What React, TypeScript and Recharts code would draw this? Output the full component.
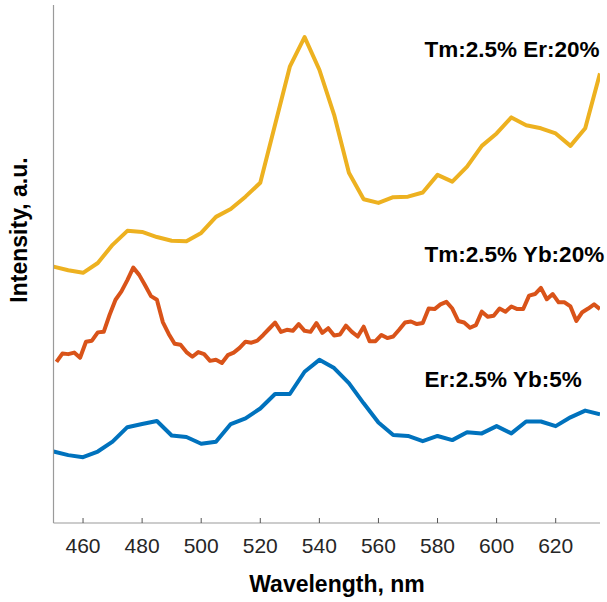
import React from 'react';
import { LineChart, Line, XAxis, YAxis } from 'recharts';

// Wavelength grid (nm) for the two smoother spectra
const coarseWavelengths = [
  450, 455, 460, 465, 470, 475, 480, 485, 490, 495, 500, 505, 510, 515, 520, 525, 530, 535, 540,
  545, 550, 555, 560, 565, 570, 575, 580, 585, 590, 595, 600, 605, 610, 615, 620, 625, 630, 635,
];

// Tm:2.5% Er:20% (offset spectrum, a.u.)
const tmErIntensity = [
  49.5, 48.8, 48.3, 50.2, 53.7, 56.4, 56.2, 55.2, 54.5, 54.4, 56.0, 59.1, 60.6, 63.0, 65.7, 76.9,
  88.1, 93.8, 87.5, 78.8, 67.6, 62.5, 61.8, 62.9, 63.0, 63.8, 67.2, 65.9, 68.8, 72.8, 75.2, 78.3,
  76.8, 76.2, 75.2, 72.8, 76.2, 86.8,
];

// Er:2.5% Yb:5%
const erYbIntensity = [
  13.8, 13.1, 12.7, 13.8, 15.7, 18.5, 19.1, 19.7, 16.9, 16.6, 15.3, 15.7, 19.1, 20.2, 22.1, 24.9,
  24.9, 29.2, 31.5, 29.9, 27.0, 23.1, 19.4, 17.0, 16.8, 15.8, 16.8, 16.0, 17.5, 17.3, 18.7, 17.3,
  19.6, 19.6, 18.7, 20.4, 21.7, 21.0,
];

// Finer wavelength grid (nm) for the noisy Tm/Yb spectrum
const fineWavelengths = [
  451, 453, 455, 457, 459, 461, 463, 465, 467, 469, 471, 473, 475, 477, 479, 481, 483, 485, 487,
  489, 491, 493, 495, 497, 499, 501, 503, 505, 507, 509, 511, 513, 515, 517, 519, 521, 523, 525,
  527, 529, 531, 533, 535, 537, 539, 541, 543, 545, 547, 549, 551, 553, 555, 557, 559, 561, 563,
  565, 567, 569, 571, 573, 575, 577, 579, 581, 583, 585, 587, 589, 591, 593, 595, 597, 599, 601,
  603, 605, 607, 609, 611, 613, 615, 617, 619, 621, 623, 625, 627, 629, 631, 633, 635,
];

// Tm:2.5% Yb:20%
const tmYbIntensity = [
  31.1, 32.7, 32.6, 32.9, 31.9, 35.0, 35.2, 36.8, 36.9, 40.2, 43.1, 44.7, 46.9, 49.3, 47.9, 45.9,
  43.8, 43.1, 38.8, 36.5, 34.6, 34.4, 33.0, 32.1, 33.0, 32.6, 31.3, 31.5, 30.9, 32.4, 32.9, 33.8,
  35.0, 34.8, 35.2, 36.3, 37.5, 38.7, 36.9, 37.3, 37.1, 38.4, 37.1, 36.9, 38.6, 36.7, 37.6, 36.2,
  36.4, 38.1, 36.9, 36.0, 37.9, 35.1, 35.1, 36.3, 35.7, 36.0, 37.3, 38.7, 38.9, 38.4, 38.6, 41.4,
  41.3, 42.2, 42.7, 41.4, 39.0, 38.7, 37.7, 38.2, 40.8, 39.8, 40.0, 41.4, 40.8, 41.8, 41.3, 41.3,
  43.9, 44.2, 45.4, 43.2, 44.2, 42.6, 42.6, 41.8, 39.0, 40.7, 41.4, 42.2, 41.3,
];

const xTicks = [460, 480, 500, 520, 540, 560, 580, 600, 620];
const yTicks = [31];
const seriesLabels = ['Tm:2.5% Er:20%', 'Tm:2.5% Yb:20%', 'Er:2.5% Yb:5%'];
const xTitle = 'Wavelength, nm';
const yTitle = 'Intensity, a.u.';

const FONT = '"Liberation Sans", Arial, Helvetica, sans-serif';

const toRows = (xs: number[], ys: number[]) => xs.map((nm, i) => ({ nm, v: ys[i] }));

const tmErRows = toRows(coarseWavelengths, tmErIntensity);
const erYbRows = toRows(coarseWavelengths, erYbIntensity);
const tmYbRows = toRows(fineWavelengths, tmYbIntensity);

export default function App() {
  return (
    <div style={{ position: 'absolute', left: 0, top: 0, width: 607, height: 602, fontFamily: FONT, background: '#fff' }}>
      <LineChart width={607} height={602} margin={{ top: 5, right: 7, bottom: 0, left: 0 }}>
        <XAxis
          type="number"
          dataKey="nm"
          domain={[450, 635]}
          ticks={xTicks}
          allowDataOverflow
          height={79}
          tickSize={-5}
          tickMargin={20}
          axisLine={{ stroke: '#9a9a9a', strokeWidth: 1.2 }}
          tickLine={{ stroke: '#555' }}
          tick={{ fill: '#262626', fontSize: 21, fontFamily: FONT }}
        />
        <YAxis
          type="number"
          dataKey="v"
          domain={[0, 100]}
          ticks={yTicks}
          allowDataOverflow
          width={53.5}
          tickSize={-5}
          tick={false}
          axisLine={{ stroke: '#9a9a9a', strokeWidth: 1.2 }}
          tickLine={{ stroke: '#333' }}
        />
        <Line data={tmErRows} dataKey="v" type="linear" stroke="#EDB120" strokeWidth={4} dot={false}
          strokeLinejoin="round" isAnimationActive={false} />
        <Line data={tmYbRows} dataKey="v" type="linear" stroke="#D95319" strokeWidth={4} dot={false}
          strokeLinejoin="round" isAnimationActive={false} />
        <Line data={erYbRows} dataKey="v" type="linear" stroke="#0072BD" strokeWidth={4} dot={false}
          strokeLinejoin="round" isAnimationActive={false} />
      </LineChart>
      <svg width={607} height={602} style={{ position: 'absolute', left: 0, top: 0, pointerEvents: 'none' }}>
        <g fontFamily={FONT} fontWeight="bold" fill="#000" fontSize={22.5}>
          <text x={424.5} y={56.5}>{seriesLabels[0]}</text>
          <text x={424.5} y={261.5}>{seriesLabels[1]}</text>
          <text x={424.5} y={386.5}>{seriesLabels[2]}</text>
        </g>
        <text x={337} y={591.5} textAnchor="middle" fontFamily={FONT} fontWeight="bold" fontSize={23} fill="#000">
          {xTitle}
        </text>
        <text x={27} y={230} textAnchor="middle" fontFamily={FONT} fontWeight="bold" fontSize={23} fill="#000"
          transform="rotate(-90 27 230)">
          {yTitle}
        </text>
      </svg>
    </div>
  );
}
